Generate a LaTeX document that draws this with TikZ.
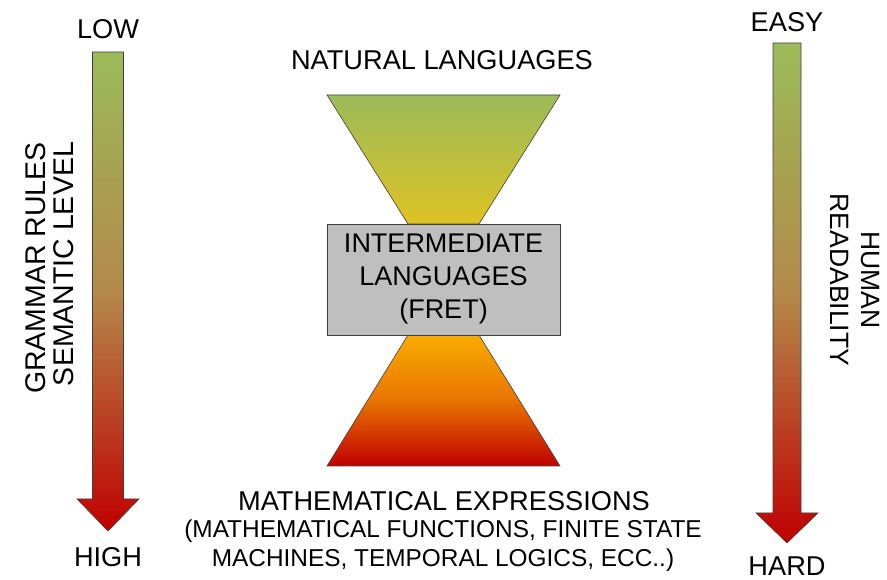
\documentclass[tikz,border=0pt]{standalone}
\usepackage{fontspec}
\setmainfont{Liberation Sans}
\definecolor{topgreen}{HTML}{9BBB59}
\definecolor{midbrown}{HTML}{B4894A}
\definecolor{botred}{HTML}{C00000}
\definecolor{gold}{HTML}{DEC224}
\definecolor{orangetop}{HTML}{F9AC00}
\definecolor{orangemid}{HTML}{E87400}
\definecolor{boxgray}{HTML}{BFBFBF}
\definecolor{edge}{HTML}{404040}
\begin{document}
\begin{tikzpicture}[x=1pt,y=1pt,
  lbl/.style={inner sep=0pt, font=\fontsize{27.2}{31}\selectfont, align=center},
  smalllbl/.style={inner sep=0pt, font=\fontsize{24.4}{29}\selectfont, align=center},
  arrowfill/.style={draw=edge, line width=0.6pt, top color=topgreen, bottom color=botred, middle color=midbrown},
  trifill/.style={draw=edge, line width=0.6pt},
  boxstyle/.style={draw=edge, line width=0.8pt, fill=boxgray, minimum width=233pt, minimum height=111pt, inner sep=0pt, font=\fontsize{27}{33}\selectfont, align=center}]
\useasboundingbox (0,0) rectangle (887,580);

% left arrow
\path[arrowfill] (92.5,528) -- (123.5,528) -- (123.5,81) -- (139,81) -- (108,49) -- (77,81) -- (92.5,81) -- cycle;
% right arrow
\path[arrowfill] (773,537) -- (801,537) -- (801,67) -- (818,67) -- (787,37) -- (756,67) -- (773,67) -- cycle;

% arrow labels
\node[lbl] (low) at (108,551) {LOW};
\node[lbl] (high) at (108,23) {HIGH};
\node[lbl] (easy) at (787,557.5) {EASY};
\node[lbl] (hard) at (787,14) {HARD};

\node[lbl, rotate=90, align=right, font=\fontsize{28.5}{28}\selectfont] (grammar) at (49.5,312) {GRAMMAR RULES\\SEMANTIC LEVEL};
\node[lbl, rotate=-90, font=\fontsize{26.5}{31}\selectfont] (human) at (855,300) {HUMAN\\READABILITY};

% hourglass
\path[trifill, top color=topgreen, bottom color=gold] (327,485) -- (560,485) -- (479,356) -- (408,356) -- cycle;
\path[trifill, top color=orangetop, bottom color=botred, middle color=orangemid] (408,245) -- (479,245) -- (560,114) -- (327,114) -- cycle;

\node[boxstyle] (inter) at (443.5,300.5) {INTERMEDIATE\\LANGUAGES\\(FRET)};

\node[lbl] (natural) at (442,520) {NATURAL LANGUAGES};
\node[lbl] (math) at (444,79) {MATHEMATICAL EXPRESSIONS};
\node[smalllbl] (mathsub) at (443,34) {(MATHEMATICAL FUNCTIONS, FINITE STATE\\MACHINES, TEMPORAL LOGICS, ECC..)};
\end{tikzpicture}
\end{document}
